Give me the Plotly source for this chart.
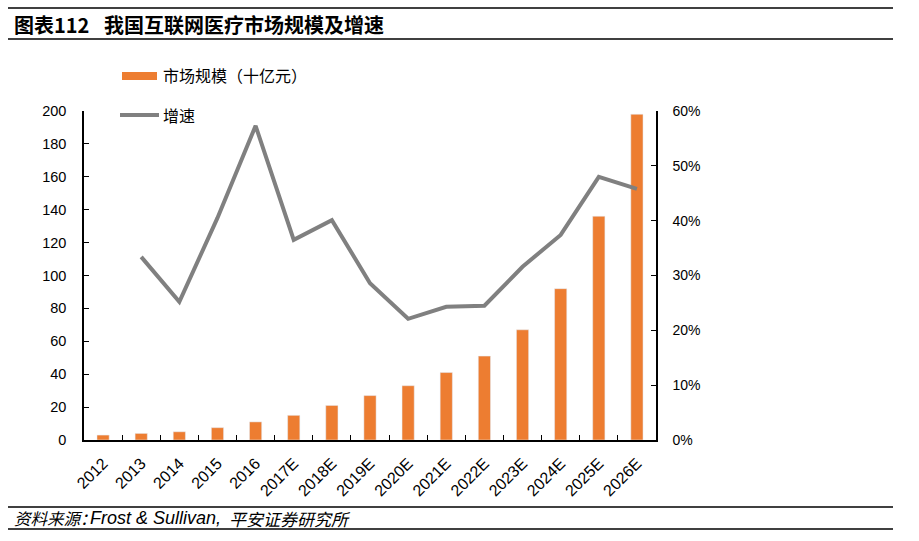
import plotly.graph_objects as go

categories = ["2012", "2013", "2014", "2015", "2016", "2017E", "2018E", "2019E",
              "2020E", "2021E", "2022E", "2023E", "2024E", "2025E", "2026E"]
market_size = [3, 4, 5, 7.5, 11, 15, 21, 27, 33, 41, 51, 67, 92, 136, 198]
growth = [None, 0.334, 0.252, 0.405, 0.573, 0.365, 0.401, 0.286, 0.221, 0.243,
          0.245, 0.316, 0.374, 0.480, 0.458]
left_ticks = list(range(0, 201, 20))
right_ticks = [0, 0.1, 0.2, 0.3, 0.4, 0.5, 0.6]

W, H = 919, 541
L, R, T, B = 84, 656, 111, 440
PW, PH = R - L, B - T

def px(x):
    return (x - L) / PW

def py(y):
    return (B - y) / PH

ORANGE = "#ED7D31"
GRAY = "#808080"
SANS = "Liberation Sans, Arial, Noto Sans CJK SC, sans-serif"
CJK = "Noto Sans CJK SC, Liberation Sans, sans-serif"

fig = go.Figure()
fig.add_trace(go.Bar(x=categories, y=market_size, marker_color=ORANGE,
                     name="市场规模（十亿元）", yaxis="y"))
fig.add_trace(go.Scatter(x=categories, y=growth, mode="lines",
                         line=dict(color=GRAY, width=4), name="增速",
                         yaxis="y2", connectgaps=False))

base = dict(showline=True, linecolor="black", linewidth=1.5,
            ticks="inside", ticklen=5, tickcolor="black", tickwidth=1.3,
            showgrid=False, zeroline=False)

fig.update_layout(
    width=W, height=H,
    margin=dict(l=L, r=W - R, t=T, b=H - B, pad=0),
    paper_bgcolor="white", plot_bgcolor="white",
    showlegend=False,
    bargap=0.68,
    xaxis=dict(type="category", range=[-0.5, 14.5], tickson="boundaries",
               tickangle=-45, ticklabelstandoff=6,
               tickfont=dict(family=SANS, size=16, color="black"), **base),
    yaxis=dict(range=[0, 200], tickvals=left_ticks, ticklabelstandoff=13,
               tickfont=dict(family=SANS, size=14.5, color="black"), **base),
    yaxis2=dict(range=[0, 0.6], tickvals=right_ticks, tickformat=".0%",
                overlaying="y", side="right", ticklabelstandoff=12,
                tickfont=dict(family=SANS, size=14, color="black"), **base),
)

shapes = []
annotations = []
# header / footer rules
for yy in (8, 39, 507, 529):
    shapes.append(dict(type="line", xref="paper", yref="paper",
                       x0=px(8), x1=px(893), y0=py(yy), y1=py(yy),
                       line=dict(color="black", width=1.6)))
# legend
shapes.append(dict(type="rect", xref="paper", yref="paper",
                   x0=px(122), x1=px(157), y0=py(80), y1=py(72),
                   fillcolor=ORANGE, line=dict(width=0)))
shapes.append(dict(type="line", xref="paper", yref="paper",
                   x0=px(120), x1=px(159), y0=py(115), y1=py(115),
                   line=dict(color=GRAY, width=4)))

def note(text, x, y, size, family=CJK, anchor="left"):
    annotations.append(dict(text=text, xref="paper", yref="paper",
                            x=px(x), y=py(y), xanchor=anchor, yanchor="middle",
                            showarrow=False,
                            font=dict(family=family, size=size, color="black")))

note("市场规模（十亿元）", 161, 75, 16)
note("增速", 161, 115, 16)
# title
note("<b>图表112</b>", 12, 25, 20)
note("<b>我国互联网医疗市场规模及增速</b>", 102, 25, 20)
# source
note("<i>资料来源：</i>", 12, 518, 16.5)
note("<i>Frost &amp; Sullivan,</i>", 88, 518, 18, family=SANS)
note("<i>平安证券研究所</i>", 227, 518, 17)

fig.update_layout(shapes=shapes, annotations=annotations)
fig.write_html("out.html", post_script="document.body.style.margin='0';",
               config={"displayModeBar": False})
